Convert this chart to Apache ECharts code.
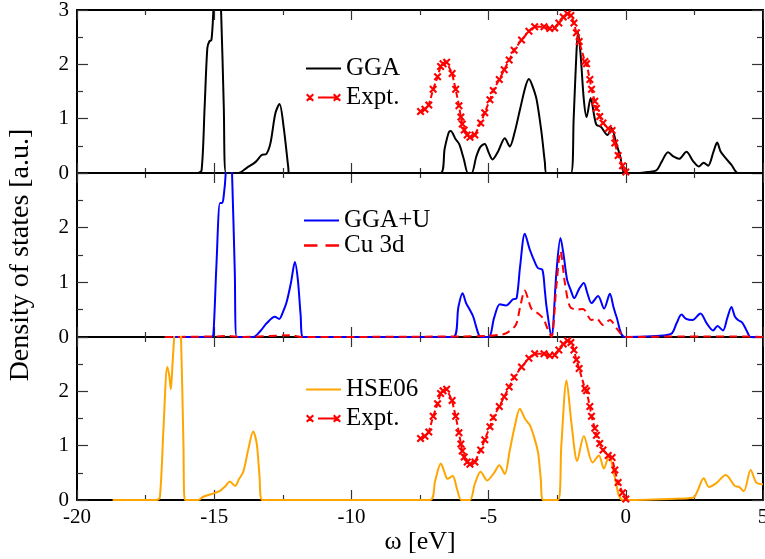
<!DOCTYPE html>
<html><head><meta charset="utf-8">
<script src="https://cdn.jsdelivr.net/npm/echarts@6/dist/echarts.min.js"></script>
<style>html,body{margin:0;padding:0;background:#fff}#c{width:765px;height:559px}</style>
</head><body><div id="c"></div>
<script>
// ---- data: [energy (eV), DOS] ----
const gga = [[-19.5,0],[-15.6,0],[-15.46,0.05],[-15.35,1.2],[-15.25,2.3],[-15.18,2.42],[-15.1,2.45],[-15.03,3.0],[-14.9,4.5],[-14.75,3.0],[-14.65,1.2],[-14.57,0],[-14.12,0],[-13.8,0.1],[-13.5,0.2],[-13.27,0.33],[-13.1,0.35],[-12.95,0.55],[-12.77,1.1],[-12.62,1.27],[-12.47,0.85],[-12.3,0.1],[-12.27,0],[-6.75,0],[-6.6,0.45],[-6.45,0.75],[-6.38,0.775],[-6.2,0.62],[-6.07,0.53],[-5.9,0.25],[-5.75,0],[-5.62,0],[-5.45,0.3],[-5.3,0.48],[-5.14,0.535],[-5.0,0.38],[-4.86,0.25],[-4.65,0.4],[-4.41,0.64],[-4.23,0.49],[-4.05,0.75],[-3.86,1.16],[-3.65,1.6],[-3.53,1.73],[-3.4,1.6],[-3.25,1.35],[-3.07,0.74],[-2.95,0.2],[-2.89,0],[-2.0,0],[-1.9,1.0],[-1.8,2.2],[-1.74,2.58],[-1.65,2.2],[-1.53,1.35],[-1.43,1.03],[-1.28,1.38],[-1.15,1.05],[-1.07,0.89],[-0.91,0.85],[-0.67,0.70],[-0.52,0.83],[-0.35,0.55],[-0.2,0.3],[-0.04,0],[0.5,0],[0.8,0.02],[1.12,0.05],[1.3,0.2],[1.54,0.38],[1.75,0.3],[1.94,0.26],[2.21,0.39],[2.45,0.22],[2.66,0.12],[2.84,0.19],[3.0,0.135],[3.2,0.4],[3.33,0.56],[3.45,0.4],[3.61,0.29],[3.85,0.15],[4.09,0],[5,0]];

const ggaU = [[-16.8,0],[-15.1,0],[-15.03,0.05],[-14.92,1.3],[-14.79,2.45],[-14.72,2.45],[-14.66,2.55],[-14.58,3.0],[-14.47,4.5],[-14.35,3.0],[-14.25,1.2],[-14.18,0],[-13.58,0],[-13.3,0.12],[-13.09,0.25],[-12.79,0.37],[-12.63,0.33],[-12.5,0.45],[-12.36,0.64],[-12.2,1.0],[-12.06,1.37],[-11.95,1.04],[-11.85,0.4],[-11.76,0],[-6.29,0],[-6.1,0.55],[-5.95,0.8],[-5.82,0.62],[-5.71,0.52],[-5.56,0.37],[-5.4,0.1],[-5.29,0],[-4.99,0],[-4.8,0.35],[-4.59,0.60],[-4.37,0.575],[-4.11,0.69],[-3.98,0.71],[-3.85,1.3],[-3.68,1.89],[-3.5,1.60],[-3.3,1.35],[-3.2,1.26],[-3.04,1.23],[-2.95,0.85],[-2.89,0.56],[-2.71,0],[-2.53,1.17],[-2.38,1.81],[-2.26,1.48],[-2.14,1.05],[-2.0,0.85],[-1.88,0.71],[-1.7,0.88],[-1.53,0.99],[-1.4,0.8],[-1.25,0.62],[-1.01,0.75],[-0.79,0.52],[-0.58,0.79],[-0.45,0.55],[-0.34,0.37],[-0.04,0],[1.12,0.02],[1.66,0.06],[1.85,0.25],[2.03,0.41],[2.2,0.33],[2.43,0.31],[2.72,0.43],[2.95,0.25],[3.18,0.12],[3.34,0.2],[3.54,0.12],[3.7,0.35],[3.85,0.55],[3.97,0.38],[4.09,0.31],[4.25,0.26],[4.4,0.12],[4.55,0],[5,0]];

const cu3d = [[-16.8,0],[-15,0.01],[-14.5,0.02],[-14,0],[-12.2,0.03],[-11.8,0],[-6,0.01],[-5,0.02],[-4.6,0.04],[-4.35,0.07],[-4.01,0.22],[-3.85,0.55],[-3.68,0.85],[-3.55,0.68],[-3.44,0.52],[-3.2,0.43],[-3.01,0.34],[-2.85,0.15],[-2.71,0],[-2.53,0.93],[-2.38,1.57],[-2.22,0.99],[-2.04,0.56],[-1.8,0.50],[-1.56,0.51],[-1.25,0.31],[-1.07,0.34],[-0.83,0.22],[-0.58,0.31],[-0.34,0.16],[0,0],[2,0.01],[3,0.01],[4,0.01],[5,0]];

const hse06 = [[-18.7,0],[-17.1,0],[-16.98,0.05],[-16.85,1.3],[-16.71,2.45],[-16.64,2.3],[-16.58,2.04],[-16.52,2.5],[-16.46,3.0],[-16.34,4.5],[-16.21,3.0],[-16.12,1.0],[-16.07,0],[-15.58,0],[-15.4,0.06],[-15.1,0.11],[-14.79,0.17],[-14.6,0.25],[-14.43,0.34],[-14.24,0.26],[-14.1,0.38],[-13.94,0.52],[-13.75,0.95],[-13.58,1.26],[-13.45,1.04],[-13.35,0.45],[-13.25,0],[-7.14,0],[-6.95,0.35],[-6.74,0.67],[-6.6,0.5],[-6.5,0.39],[-6.31,0.44],[-6.15,0.2],[-5.99,0],[-5.68,0],[-5.5,0.3],[-5.29,0.52],[-5.05,0.36],[-4.8,0.5],[-4.61,0.64],[-4.41,0.48],[-4.23,0.91],[-4.05,1.35],[-3.86,1.68],[-3.68,1.50],[-3.5,1.38],[-3.38,1.22],[-3.2,0.88],[-3.1,0.4],[-3.01,0],[-2.47,0],[-2.35,1.0],[-2.16,2.20],[-1.98,1.41],[-1.77,0.72],[-1.53,1.18],[-1.21,0.69],[-0.98,0.82],[-0.8,0.58],[-0.61,0.82],[-0.4,0.42],[-0.1,0],[1.6,0.02],[2.45,0.04],[2.6,0.15],[2.84,0.40],[3.03,0.24],[3.3,0.31],[3.64,0.46],[3.97,0.26],[4.13,0.24],[4.3,0.16],[4.55,0.55],[4.76,0.32],[5.0,0.29]];

const expt = [[-7.48,1.13],[-7.32,1.175],[-7.18,1.25],[-7.02,1.54],[-6.86,1.77],[-6.75,1.96],[-6.66,2.01],[-6.53,2.04],[-6.33,1.83],[-6.20,1.54],[-6.08,1.24],[-6.01,1.03],[-5.96,0.90],[-5.89,0.79],[-5.78,0.70],[-5.68,0.66],[-5.50,0.70],[-5.29,0.92],[-5.14,1.11],[-4.95,1.35],[-4.83,1.52],[-4.61,1.72],[-4.43,1.90],[-4.25,2.08],[-4.07,2.26],[-3.80,2.45],[-3.53,2.61],[-3.32,2.69],[-2.98,2.69],[-2.77,2.66],[-2.59,2.67],[-2.44,2.76],[-2.28,2.87],[-2.12,2.93],[-2.00,2.90],[-1.89,2.76],[-1.80,2.58],[-1.70,2.42],[-1.49,2.05],[-1.43,2.01],[-1.31,1.72],[-1.25,1.54],[-1.13,1.32],[-1.07,1.19],[-0.95,1.04],[-0.83,0.92],[-0.64,0.82],[-0.50,0.78],[-0.40,0.55],[-0.28,0.32],[-0.12,0.135],[0.0,0.02]];

const xTicks = [-20, -15, -10, -5, 0, 5];
const names = ['GGA', 'Expt.', 'GGA+U', 'Cu 3d', 'HSE06'];

const FONT = 'Liberation Serif';
const xMark = 'path://M0,1.5L1.5,0L8,6.5L6.5,8ZM6.5,0L8,1.5L1.5,8L0,6.5Z';
const exptIcon = 'path://M0,1.5L1.5,0L8,6.5L6.5,8ZM6.5,0L8,1.5L1.5,8L0,6.5ZM12,3L30,3L30,5L12,5ZM27,1.5L28.5,0L35,6.5L33.5,8ZM33.5,0L35,1.5L28.5,8L27,6.5Z';
const solidIcon = 'path://M0,0L35,0L35,2L0,2Z';
const dashIcon = 'path://M0,0L10,0L10,2L0,2ZM16,0L26,0L26,2L16,2Z';

const grids = [
  {left: 77, right: 2, top: 10, height: 163, outerBoundsMode: 'none', containLabel: false},
  {left: 77, right: 2, top: 173, height: 164, outerBoundsMode: 'none', containLabel: false},
  {left: 77, right: 2, top: 337, height: 163, outerBoundsMode: 'none', containLabel: false}
];

const xAxes = [], yAxes = [];
for (let g = 0; g < 3; g++) {
  ['bottom', 'top'].forEach(pos => {
    xAxes.push({
      type: 'value', gridIndex: g, position: pos, min: xTicks[0], max: xTicks[xTicks.length-1], interval: 5,
      axisLine: {show: true, onZero: false, lineStyle: {color: '#000', width: 2}},
      axisTick: {show: true, inside: true, length: 10, lineStyle: {color: '#333', width: 1.2}},
      minorTick: {show: true, splitNumber: 2, length: 5, lineStyle: {color: '#333', width: 1.2}},
      splitLine: {show: false},
      axisLabel: {show: g === 2 && pos === 'bottom', color: '#000', fontFamily: FONT, fontSize: 21, margin: 7},
      name: (g === 2 && pos === 'bottom') ? 'ω [eV]' : '',
      nameLocation: 'middle', nameGap: 27,
      nameTextStyle: {color: '#000', fontFamily: FONT, fontSize: 26}
    });
  });
  ['left', 'right'].forEach(pos => {
    yAxes.push({
      type: 'value', gridIndex: g, position: pos, min: 0, max: 3, interval: 1,
      axisLine: {show: true, onZero: false, lineStyle: {color: '#000', width: 2}},
      axisTick: {show: true, inside: true, length: 11, lineStyle: {color: '#333', width: 1.2}},
      minorTick: {show: true, splitNumber: 2, length: 6, lineStyle: {color: '#333', width: 1.2}},
      splitLine: {show: false},
      axisLabel: {show: pos === 'left', color: '#000', fontFamily: FONT, fontSize: 21, margin: 8,
        formatter: v => (g > 0 && v === 3) ? '' : String(v)},
      name: (g === 1 && pos === 'left') ? 'Density of states [a.u.]' : '',
      nameLocation: 'middle', nameGap: 42,
      nameTextStyle: {color: '#000', fontFamily: FONT, fontSize: 28}
    });
  });
}

function dft(name, data, g, color, dashed) {
  return {
    type: 'line', name, data, xAxisIndex: g*2, yAxisIndex: g*2,
    symbol: 'none', smooth: 0.3, clip: true,
    lineStyle: {color, width: 2, type: dashed ? [8, 5] : 'solid'},
    itemStyle: {color}
  };
}
function exp(g) {
  return {
    type: 'line', name: 'Expt.', data: expt, xAxisIndex: g*2, yAxisIndex: g*2,
    symbol: xMark, symbolSize: 8, showSymbol: true, clip: true,
    lineStyle: {color: 'red', width: 2, type: [6, 3]},
    itemStyle: {color: 'red', borderWidth: 0}
  };
}

const legendBase = {
  orient: 'vertical', itemWidth: 35, itemHeight: 8, selectedMode: false, symbolKeepAspect: true,
  textStyle: {color: '#000', fontFamily: FONT, fontSize: 25, lineHeight: 25}
};

const option = {
  animation: false,
  backgroundColor: '#fff',
  grid: grids,
  xAxis: xAxes,
  yAxis: yAxes,
  legend: [
    Object.assign({}, legendBase, {left: 301, top: 51, itemGap: 4,
      data: [{name: names[0], icon: solidIcon}, {name: names[1], icon: exptIcon}]}),
    Object.assign({}, legendBase, {left: 299, top: 203, itemGap: 0,
      data: [{name: names[2], icon: solidIcon}, {name: names[3], icon: dashIcon}]}),
    Object.assign({}, legendBase, {left: 301, top: 372, itemGap: 4,
      data: [{name: names[4], icon: solidIcon}, {name: names[1], icon: exptIcon}]})
  ],
  series: [
    dft('GGA', gga, 0, '#000', false),
    exp(0),
    dft('GGA+U', ggaU, 1, '#0000ff', false),
    dft('Cu 3d', cu3d, 1, '#ff0000', true),
    dft('HSE06', hse06, 2, '#ffa500', false),
    exp(2)
  ]
};
const chart = echarts.init(document.getElementById('c'), null, {renderer: 'canvas'});
chart.setOption(option);
</script>
</body></html>
